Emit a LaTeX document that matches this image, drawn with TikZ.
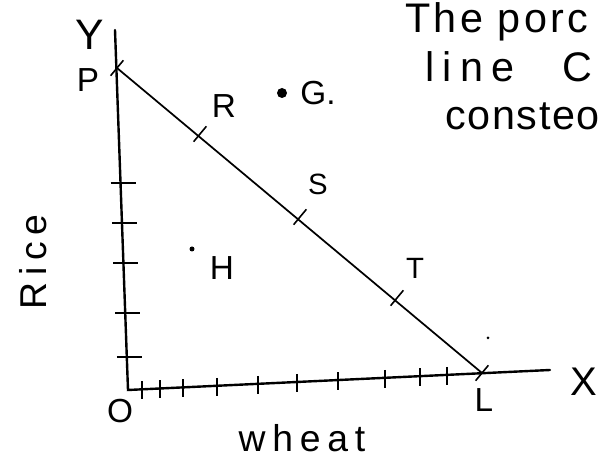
\documentclass[tikz,border=0pt]{standalone}
\usepackage{fontspec}
\setmainfont{Liberation Sans}
\newfontfamily\spaced[LetterSpace=18]{Liberation Sans}
\newfontfamily\headA[LetterSpace=8]{Liberation Sans}
\newfontfamily\headB[LetterSpace=20]{Liberation Sans}
\newfontfamily\headC[LetterSpace=4]{Liberation Sans}
\usetikzlibrary{calc}
\begin{document}
\begin{tikzpicture}[x=0.75pt,y=-0.75pt,
  axis/.style={line width=1.8pt,line cap=round},
  ppl/.style={line width=1.3pt},
  tick/.style={line width=1.2pt},
  lab/.style={font=\fontsize{25}{30}\selectfont,inner sep=0pt},
  big/.style={inner sep=0pt,anchor=base west}]
\useasboundingbox (0,0) rectangle (612,473);
% key points
\coordinate (O) at (128,390);
\coordinate (Ytop) at (115,30);
\coordinate (Xend) at (550,370);
\coordinate (P) at (117,68);
\coordinate (L) at (482,373);
\coordinate (R) at (200,134);
\coordinate (S) at (300,217);
\coordinate (T) at (397,298);
% axes
\draw[axis] (Ytop) -- (O) -- (Xend);
% production possibility line
\draw[ppl] (P) -- (L);
% crosses on the line
\foreach \p in {P,R,S,T,L}
  \draw[tick] ($(\p)+(6.4,-7.7)$) -- ($(\p)-(6.4,-7.7)$);
% y-axis ticks
\foreach \yy in {183,223,263,313,357}
  \draw[tick] ({128-13*(390-\yy)/360-10},\yy) -- ({128-13*(390-\yy)/360+15},\yy);
% x-axis ticks
\foreach \xx in {142,160,183,217,258,297,338,385,420,447}
  \draw[tick] (\xx,{390-20*(\xx-128)/422-8}) -- (\xx,{390-20*(\xx-128)/422+10});
% points
\fill (282,93) circle (5);
\fill (192,249) circle (2.5);
\fill (488,338) circle (1.5);
% labels
\node[lab,font=\fontsize{32}{36}\selectfont] (ylab) at (90,35) {Y};
\node[lab,font=\fontsize{30}{34}\selectfont] (xlab) at (584,382) {X};
\node[lab] (olab) at (120,411) {O};
\node[lab] (plab) at (88,80) {P};
\node[lab] (llab) at (484,400) {L};
\node[lab] (rlab) at (224,106) {R};
\node[lab] (glab) at (318,93) {G.};
\node[lab] (hlab) at (222,268) {H};
\node[lab,font=\fontsize{22}{26}\selectfont] (slab) at (318,184) {S};
\node[lab,font=\fontsize{22}{26}\selectfont] (tlab) at (415,268) {T};
\node[lab,font=\spaced\fontsize{28}{32}\selectfont,rotate=90] (rice) at (33,262) {Rice};
\node[lab,font=\spaced\fontsize{28}{32}\selectfont] (wheat) at (302,438) {wheat};
% heading text
\node[big,font=\headA\fontsize{31}{36}\selectfont] (t1) at (405,33) {The porc};
\node[big,font=\headB\fontsize{31}{36}\selectfont] (t2) at (425,82) {line\hspace{36pt}C};
\node[big,font=\headC\fontsize{31}{36}\selectfont] (t3) at (445,130) {consteo};
\end{tikzpicture}
\end{document}
